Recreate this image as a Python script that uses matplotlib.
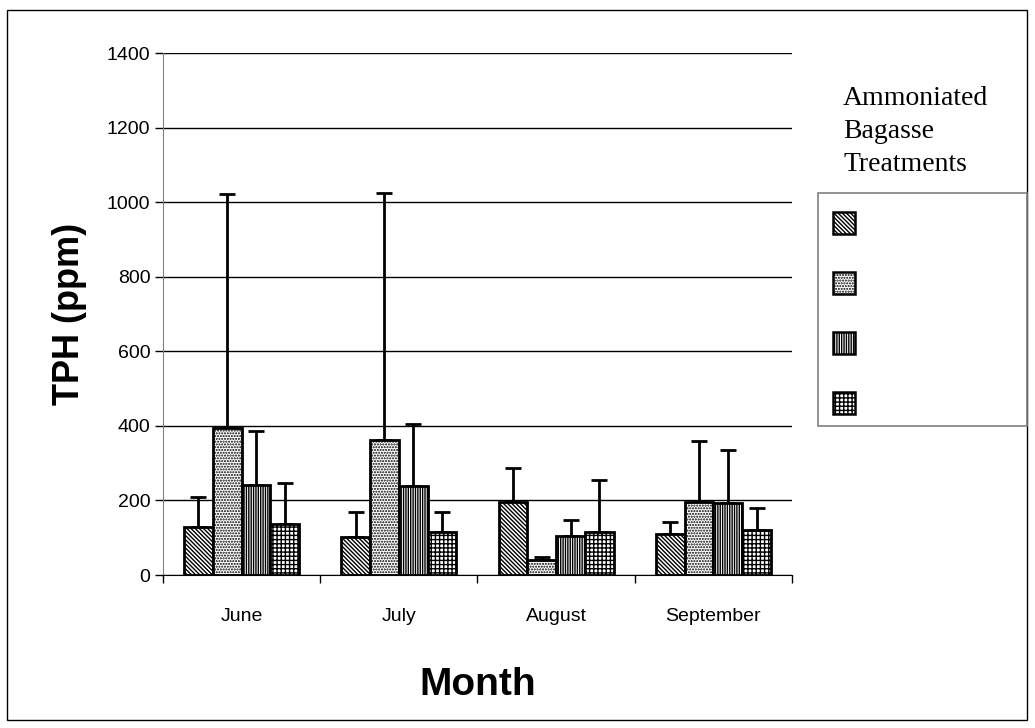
import matplotlib
matplotlib.use("Agg")
import matplotlib.pyplot as plt
import numpy as np
from matplotlib.patches import Rectangle

months = ["June", "July", "August", "September"]
t1 = [130, 103, 195, 110]
t2 = [395, 362, 40, 197]
t3 = [242, 240, 105, 193]
t4 = [137, 115, 115, 122]
e1 = [79, 66, 92, 32]
e2 = [627, 663, 8, 162]
e3 = [144, 165, 42, 142]
e4 = [110, 54, 140, 58]
yticks = [0, 200, 400, 600, 800, 1000, 1200, 1400]
legend_title = "Ammoniated\nBagasse\nTreatments"

W, H = 1035, 728
plt.rcParams['hatch.linewidth'] = 1.0
fig = plt.figure(figsize=(W/100, H/100), dpi=100)
fig.patches.append(Rectangle((7/W, 1-720/H), 1020/W, 710/H, transform=fig.transFigure,
                             fill=False, edgecolor='black', linewidth=1.0))
ax = fig.add_axes([163/W, 1-575/H, (792-163)/W, (575-53)/H])

x = np.arange(len(months))
w = 0.183
series = [t1, t2, t3, t4]
errs = [e1, e2, e3, e4]
hatches = ['\\\\\\\\\\\\\\\\', '......', '|||||||', '++++']
for i, (vals, err, h) in enumerate(zip(series, errs, hatches)):
    pos = x + (i - 1.5) * w
    ax.bar(pos, vals, w, color='white', edgecolor='black', hatch=h, linewidth=2, zorder=3)
    ax.errorbar(pos, vals, yerr=[np.zeros(len(vals)), err], fmt='none', ecolor='black',
                elinewidth=2, capsize=6, capthick=2, zorder=2)

ax.set_xlim(-0.5, 3.5)
ax.set_ylim(0, 1400)
ax.set_yticks(yticks)
ax.set_yticklabels([str(v) for v in yticks], fontsize=14, family='Liberation Sans')
ax.set_xticks(x)
ax.set_xticklabels(months, fontsize=14, family='Liberation Sans')
ax.set_xticks(np.arange(-0.5, 4.0, 1.0), minor=True)
ax.tick_params(axis='x', which='major', length=0, pad=24)
ax.tick_params(axis='x', which='minor', length=6, direction='out', width=1)
ax.tick_params(axis='y', length=6, direction='out', width=1, pad=3)
ax.yaxis.grid(True, color='black', linewidth=1, zorder=0)
ax.set_axisbelow(True)
for s in ['top', 'right']:
    ax.spines[s].set_visible(False)
ax.spines['left'].set_color('#808080')
ax.spines['bottom'].set_color('black')

ax.set_ylabel("TPH (ppm)", fontsize=26, fontweight='bold', family='Liberation Sans', labelpad=14)
ax.set_xlabel("Month", fontsize=28, fontweight='bold', family='Liberation Sans', labelpad=30)

fig.text(843/W, 1-86/H, legend_title, fontsize=20, family='Liberation Serif',
         va='top', ha='left', linespacing=1.42)
fig.patches.append(Rectangle((818/W, 1-426/H), (1027-818)/W, (426-193)/H,
                             transform=fig.transFigure, fill=False,
                             edgecolor='#808080', linewidth=1.2))
for i, h in enumerate(hatches):
    top = 212 + 60 * i
    fig.patches.append(Rectangle((833/W, 1-(top+22)/H), 22/W, 22/H,
                                 transform=fig.transFigure, facecolor='white',
                                 edgecolor='black', hatch=h, linewidth=1.8))

fig.savefig("out.png", dpi=100)
